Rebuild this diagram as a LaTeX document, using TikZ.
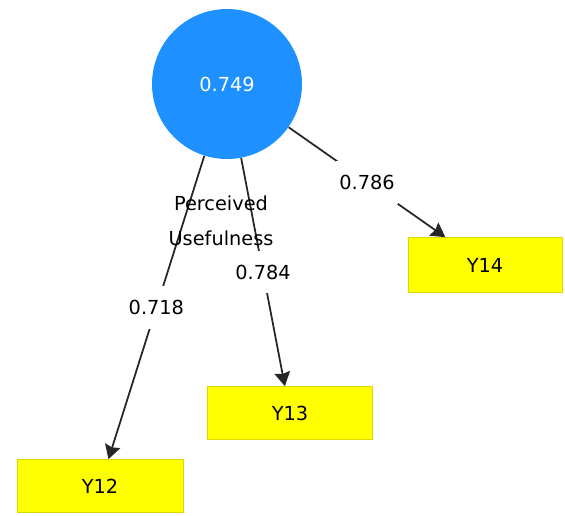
\documentclass[tikz,border=0pt]{standalone}
\usepackage{fontspec}
\setmainfont{DejaVu Sans}
\usetikzlibrary{arrows.meta}
\definecolor{lvblue}{RGB}{30,144,255}
\definecolor{mvyellow}{RGB}{255,255,0}

\begin{document}
\begin{tikzpicture}[x=0.02cm,y=-0.02cm,font=\fontsize{11}{13}\selectfont,
 latent/.style={circle,fill=lvblue,minimum size=3cm,inner sep=0pt,text=white},
 indicator/.style={rectangle,fill=mvyellow,draw=mvyellow!85!black,line width=0.4pt,minimum height=1.06cm},
 loading/.style={fill=white,inner xsep=2pt,inner ysep=8pt,pos=0.5},
 path/.style={line width=1pt,draw=black!85,->,>={Stealth[length=8pt,width=9pt,inset=1pt]}}]
 \useasboundingbox (0,0) rectangle (565,515); %描画範囲
 \node[latent] (PU) at (227,84) {0.749}; %潜在変数
 \node[indicator,minimum width=3.32cm] (Y12) at (100,486) {Y12}; %観測変数
 \node[indicator,minimum width=3.3cm] (Y13) at (290,413) {Y13};
 \node[indicator,minimum width=3.08cm,minimum height=1.1cm] (Y14) at (485,265) {Y14};
 \draw[path] (PU)--node[loading] {0.718} (Y12); %負荷量
 \draw[path] (PU)--node[loading] {0.784} (Y13);
 \draw[path] (PU)--node[loading] {0.786} (Y14);
 \node[align=center,text height=9pt,inner sep=0pt] (PUname) at (221,238) {Perceived\\[7pt]Usefulness}; %変数名
\end{tikzpicture}
\end{document}
